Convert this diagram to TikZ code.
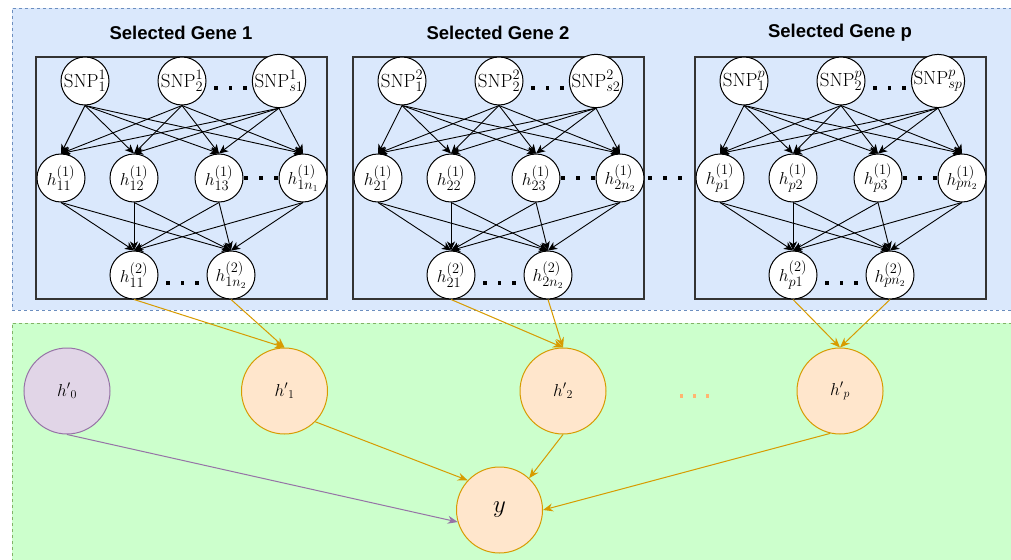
\documentclass[tikz,border=0pt]{standalone}
\usepackage{fontspec}
\newfontfamily\titlefont{Liberation Sans}
\usetikzlibrary{arrows.meta}
\definecolor{bluefill}{HTML}{DAE8FC}
\definecolor{blueline}{HTML}{6C8EBF}
\definecolor{greenfill}{HTML}{CCFFCC}
\definecolor{greenline}{HTML}{82B366}
\definecolor{orangefill}{HTML}{FFE6CC}
\definecolor{orangeline}{HTML}{D79B00}
\definecolor{purplefill}{HTML}{E1D5E7}
\definecolor{purpleline}{HTML}{9673A6}
\definecolor{dotorange}{HTML}{FFB570}
\newcommand\blackdots{\rule{3.8pt}{3.8pt}\hspace{11pt}\rule{3.8pt}{3.8pt}\hspace{11pt}\rule{3.8pt}{3.8pt}}
\newcommand\orangedots{\textcolor{dotorange}{\rule{3.3pt}{3.3pt}\hspace{10pt}\rule{3.3pt}{3.3pt}\hspace{10pt}\rule{3.3pt}{3.3pt}}}
% #1 prefix, #2 x offset, #3 title, #4 SNP superscript, #5 last SNP subscript,
% #6 h index, #7 last h1 subscript, #8 last h2 subscript
\newcommand\GeneBlock[8]{%
  \begin{scope}[shift={(#2,0)}]
    \node[title] (#1t) at (145,33) {#3};
    \node[genebox] (#1box) at (145.5,178) {};
    \node[unit] (#1s1) at (49,81) {$\mathrm{SNP}^{#4}_{1}$};
    \node[unit] (#1s2) at (146,81) {$\mathrm{SNP}^{#4}_{2}$};
    \node[unit] (#1s3) at (243,81) {$\mathrm{SNP}^{#4}_{#5}$};
    \node[dotnode] (#1sd) at (194.5,88) {\blackdots};
    \node[unit] (#1a1) at (25,178) {$h^{(1)}_{#61}$};
    \node[unit] (#1a2) at (98,178) {$h^{(1)}_{#62}$};
    \node[unit] (#1a3) at (183,178) {$h^{(1)}_{#63}$};
    \node[unit] (#1a4) at (267,178) {$h^{(1)}_{#7}$};
    \node[dotnode] (#1ad) at (225,178) {\blackdots};
    \node[unit] (#1b1) at (98,275) {$h^{(2)}_{#61}$};
    \node[unit] (#1b2) at (195,275) {$h^{(2)}_{#8}$};
    \node[dotnode] (#1bd) at (146.5,283) {\blackdots};
    \foreach \i in {1,2,3} {\foreach \j in {1,2,3,4} {\draw[edge] (#1s\i.south) -- (#1a\j.north);}}
    \foreach \i in {1,2,3,4} {\foreach \j in {1,2} {\draw[edge] (#1a\i.south) -- (#1b\j.north);}}
  \end{scope}}
\begin{document}
\begin{tikzpicture}[x=1pt,y=-1pt,
  region/.style={rectangle, inner sep=0pt, line width=0.9pt, dash pattern=on 3pt off 3pt},
  genebox/.style={rectangle, draw=black!80, line width=1.1pt, minimum width=291pt, minimum height=242pt, inner sep=0pt},
  title/.style={font=\titlefont\bfseries\fontsize{18.5}{22}\selectfont, inner sep=0pt},
  unit/.style={circle, draw=black, fill=white, line width=1pt, minimum size=48pt, inner sep=0pt, font=\fontsize{19}{22}\selectfont},
  dotnode/.style={inner sep=0pt},
  edge/.style={-{Stealth[length=9pt,width=8pt,inset=2.5pt]}, line width=0.9pt, black},
  big/.style={circle, minimum size=86pt, inner sep=0pt, line width=1pt, font=\fontsize{18}{22}\selectfont},
  orangenode/.style={big, draw=orangeline, fill=orangefill},
  purplenode/.style={big, draw=purpleline, fill=purplefill},
  oedge/.style={-{Stealth[length=10pt,width=8pt]}, draw=orangeline, line width=1pt},
  pedge/.style={-{Stealth[length=10pt,width=8pt]}, draw=purpleline, line width=1pt}
]
\useasboundingbox (0,0) rectangle (1011,559);
\clip (0,0) rectangle (1011,559);
\fill[white] (0,0) rectangle (1011,559);
% regions
\node[region, draw=blueline, fill=bluefill, minimum width=1030pt, minimum height=302pt] (top) at (527,159) {};
\node[region, draw=greenline, fill=greenfill, minimum width=1030pt, minimum height=260pt] (bottom) at (527,453) {};
% gene blocks
\GeneBlock{ga}{36}{Selected Gene 1}{1}{s1}{1}{1n_1}{1n_2}
\GeneBlock{gb}{353}{Selected Gene 2}{2}{s2}{2}{2n_2}{2n_2}
\GeneBlock{gp}{695}{Selected Gene p}{p}{sp}{p}{pn_2}{pn_2}
\node[dotnode] (midd) at (665,178) {\blackdots};
% bottom layer
\node[purplenode] (h0) at (67,391) {$h'{}_0$};
\node[orangenode] (h1) at (284.5,391) {$h'{}_1$};
\node[orangenode] (h2) at (563,391) {$h'{}_2$};
\node[orangenode] (hp) at (840,391) {$h'{}_p$};
\node[dotnode] (odots) at (694.5,396) {\orangedots};
\node[orangenode, font=\fontsize{23}{26}\selectfont] (y) at (499.5,510) {$y$};
% gene -> h'
\draw[oedge] (gab1.south) -- (h1.north);
\draw[oedge] (gab2.south) -- (h1.north);
\draw[oedge] (gbb1.south) -- (h2.north);
\draw[oedge] (gbb2.south) -- (h2.north);
\draw[oedge] (gpb1.south) -- (hp.north);
\draw[oedge] (gpb2.south) -- (hp.north);
% h' -> y
\draw[pedge] (h0.south) -- (y.196);
\draw[oedge] (h1.-45) -- (y.137);
\draw[oedge] (h2.south) -- (y.47);
\draw[oedge] (hp.-103) -- (y.east);
\end{tikzpicture}
\end{document}
